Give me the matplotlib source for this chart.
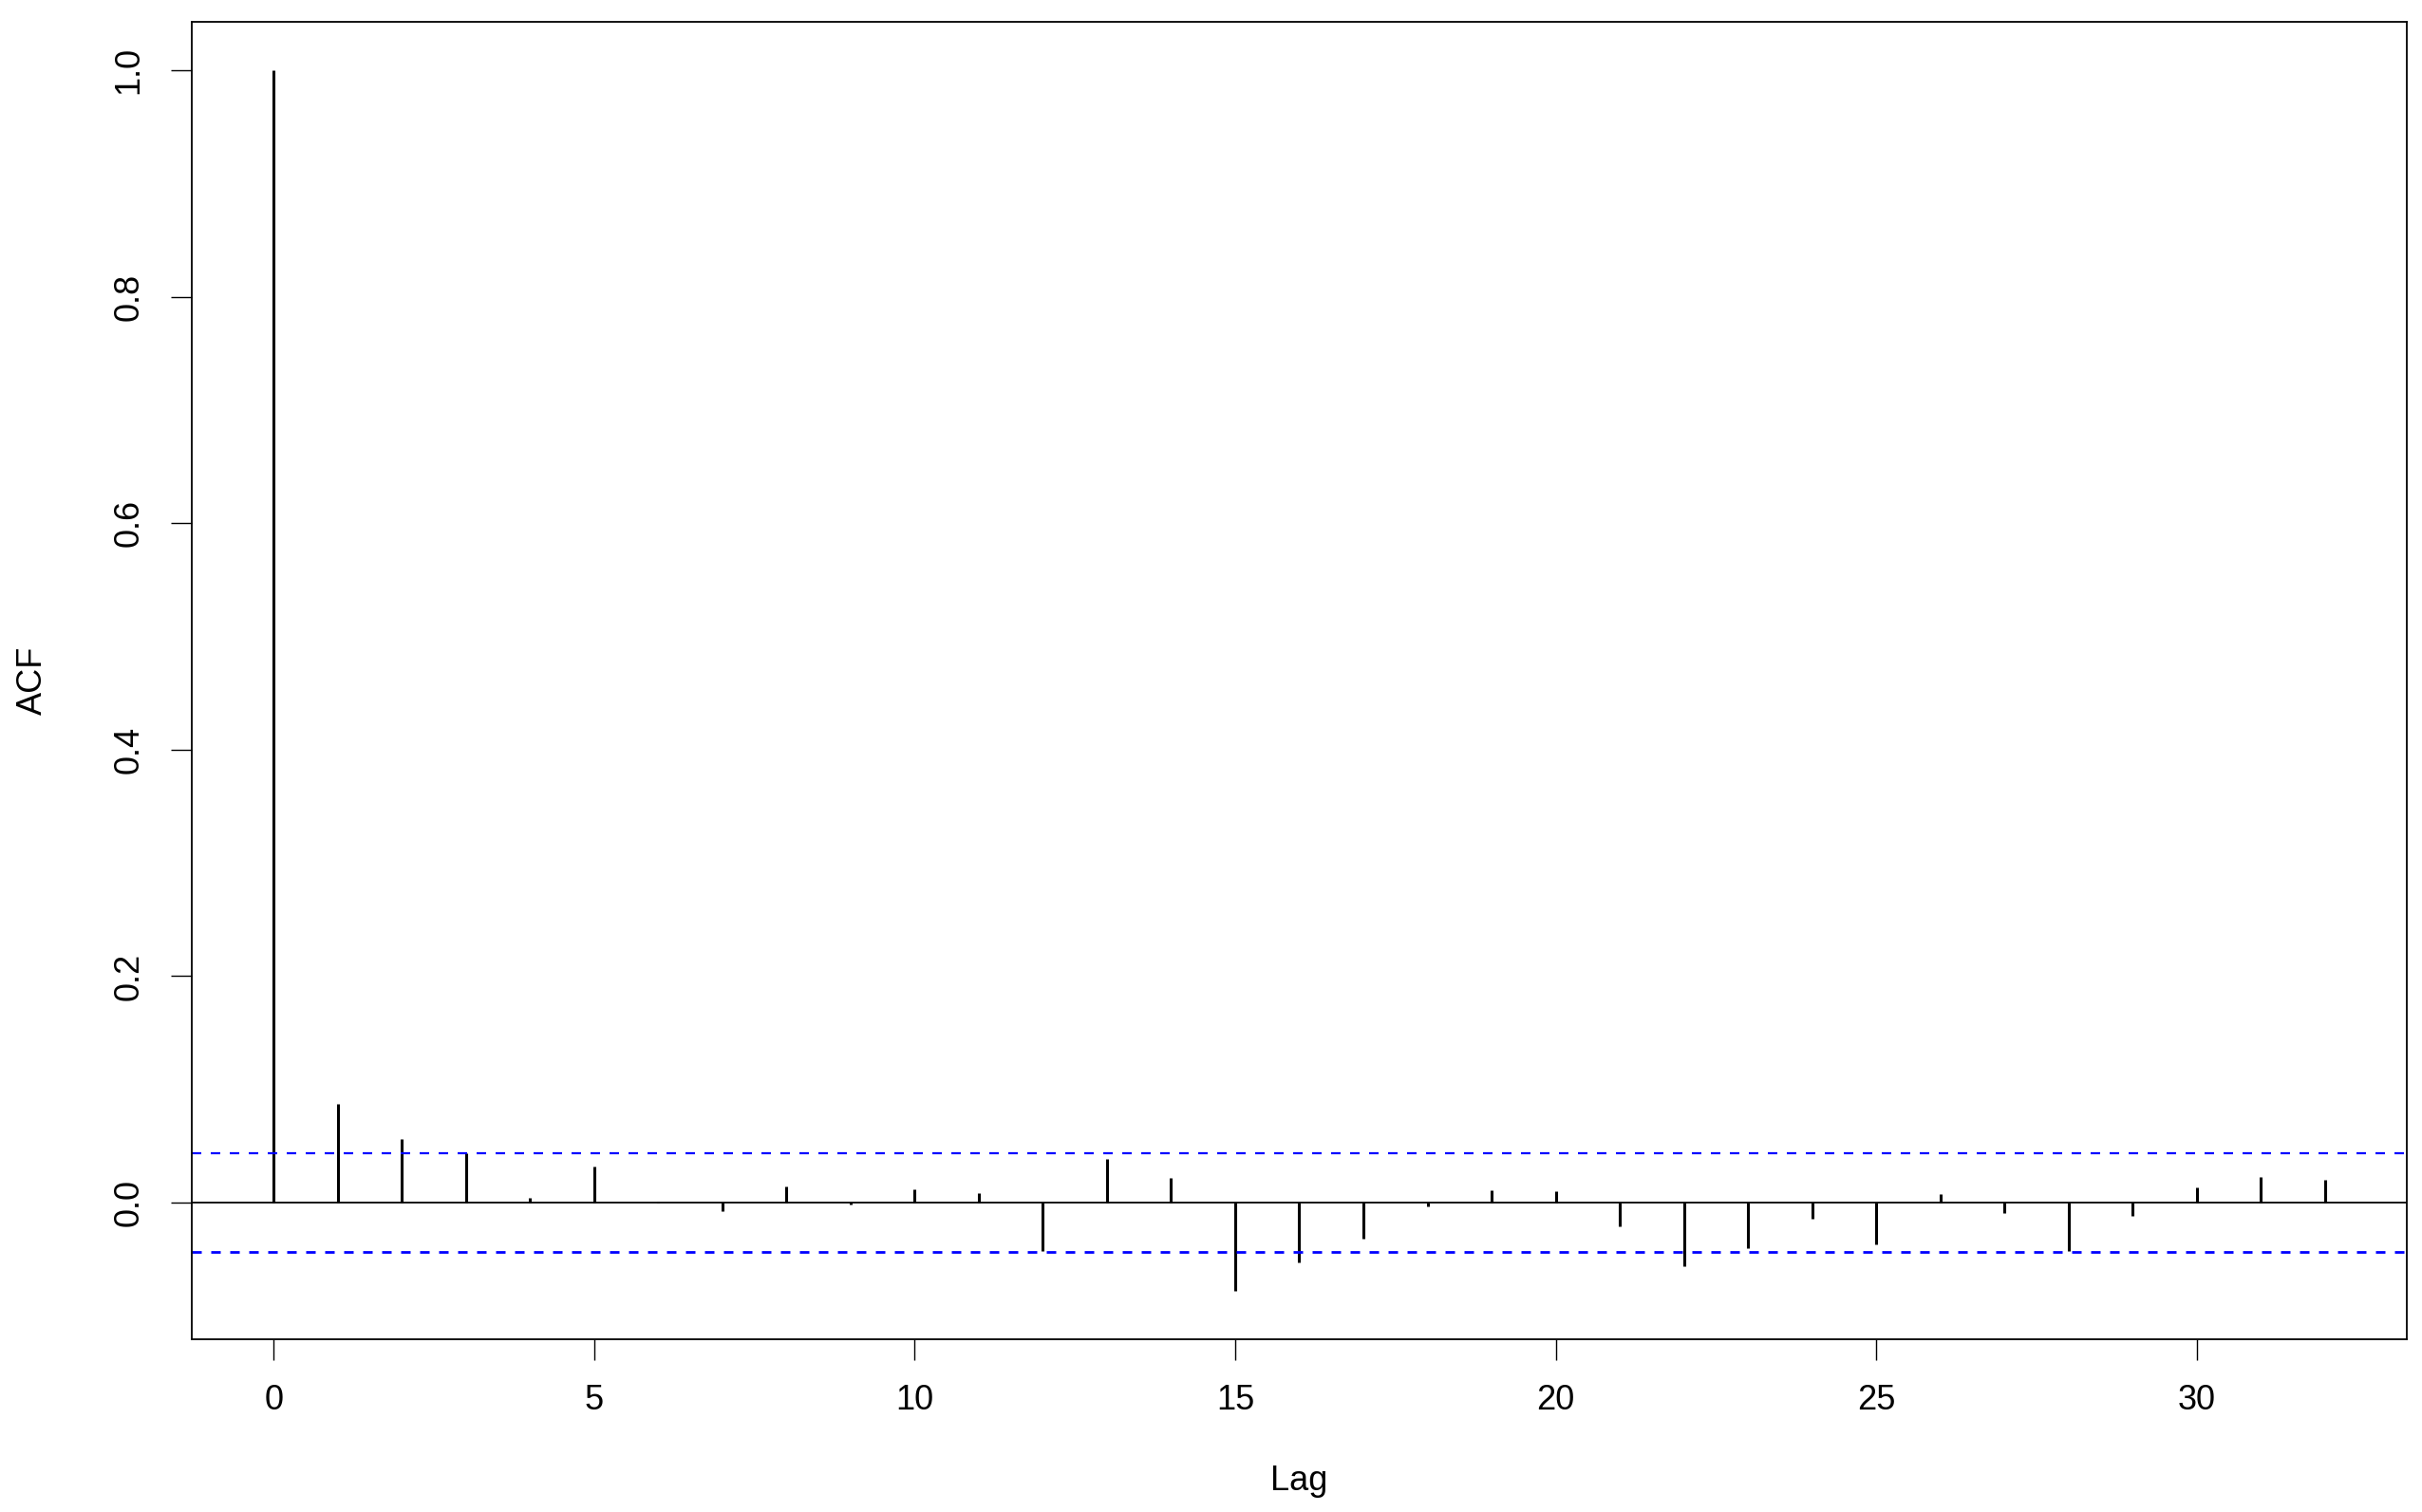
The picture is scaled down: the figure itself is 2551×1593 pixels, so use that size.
import numpy as np
import matplotlib
matplotlib.use("Agg")
import matplotlib.pyplot as plt

# autocorrelations (lag 0..32)
lags = list(range(0, 33))
acf = [1.0, 0.0875, 0.0565, 0.0439, 0.004, 0.0319, 0.001, -0.0078, 0.0145,
       -0.002, 0.0117, 0.0081, -0.0428, 0.0386, 0.0215, -0.0777, -0.0531,
       -0.0316, -0.003, 0.0112, 0.0098, -0.0212, -0.0559, -0.040, -0.014,
       -0.0366, 0.0078, -0.0089, -0.0425, -0.012, 0.0137, 0.0229, 0.0204]
ci = 0.0437  # 95% bound
xticks = [0, 5, 10, 15, 20, 25, 30]
yticks = [0.0, 0.2, 0.4, 0.6, 0.8, 1.0]

plt.rcParams['font.family'] = ['Liberation Sans', 'DejaVu Sans']

fig = plt.figure(figsize=(25.51, 15.93), dpi=100)
ax = fig.add_axes([202/2551, 1 - 1411/1593, (2535-202)/2551, (1411-23)/1593])

ax.vlines(lags, 0, acf, color='black', lw=2.2)
ax.axhline(0, color='black', lw=1.3)
ax.axhline(ci, color='blue', lw=1.6, ls=(0, (4.5, 4.5)))
ax.axhline(-ci, color='blue', lw=2.0, ls=(0, (3.6, 3.6)))

# R style 4% axis extension
xr = max(lags) - min(lags)
ax.set_xlim(min(lags) - 0.04*xr, max(lags) + 0.04*xr)
ymin, ymax = min(acf), max(acf)
yr = ymax - ymin
ax.set_ylim(ymin - 0.04*yr, ymax + 0.04*yr)

ax.set_xticks(xticks)
ax.set_xticklabels([str(t) for t in xticks])
ax.set_yticks(yticks)
ax.set_yticklabels(["%.1f" % t for t in yticks], rotation=90, va='center')

ax.tick_params(axis='both', direction='out', length=16, width=1.0,
               labelsize=26, colors='black')
ax.tick_params(axis='x', pad=18)
ax.tick_params(axis='y', pad=19)
for s in ax.spines.values():
    s.set_linewidth(1.3)

fig.text(1368/2551, 1 - 1570/1593, 'Lag', ha='center', va='baseline', fontsize=26)
fig.text(34/2551, 1 - 717/1593, 'ACF', ha='center', va='center', rotation=90, fontsize=26)

plt.savefig('out.png', dpi=100)
